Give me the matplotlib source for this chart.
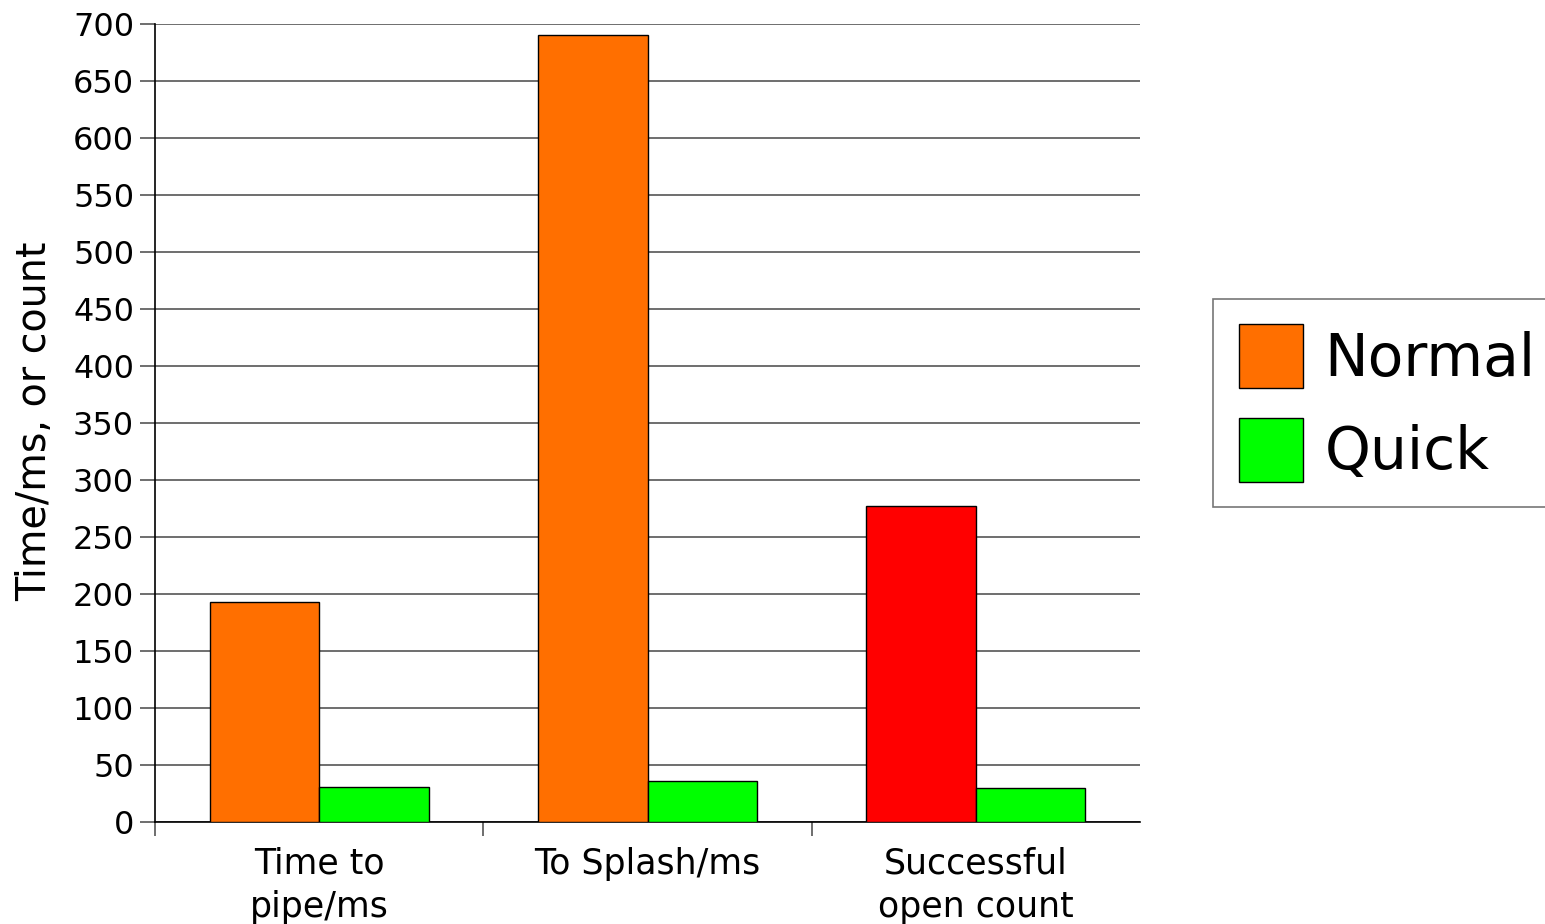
import matplotlib
matplotlib.use("Agg")
import matplotlib.pyplot as plt
import numpy as np
from matplotlib.patches import Patch

categories = ["Time to\npipe/ms", "To Splash/ms", "Successful\nopen count"]
normal = [193, 690, 277]
quick = [31, 36, 30]
normal_colors = ["#ff6f00", "#ff6f00", "#ff0000"]
quick_color = "#00ff00"

plt.rcParams["font.family"] = "DejaVu Sans"

fig = plt.figure(figsize=(15.45, 9.24), dpi=100)
ax = fig.add_axes([155 / 1545, 1 - 822 / 924, 985 / 1545, 798 / 924])

x = np.arange(len(categories))
w = 1 / 3
ax.bar(x - w / 2, normal, width=w, color=normal_colors, edgecolor="black", linewidth=1, zorder=3)
ax.bar(x + w / 2, quick, width=w, color=quick_color, edgecolor="black", linewidth=1, zorder=3)

ax.set_xlim(-0.5, len(categories) - 0.5)
ax.set_ylim(0, 700)
ax.set_yticks(np.arange(0, 701, 50))
ax.yaxis.grid(True, color="#555555", linewidth=1.2, zorder=0)
ax.tick_params(axis="y", labelsize=23, length=11, color="#555555", width=1.2, pad=4)

# group boundary ticks (none at the right end)
ax.set_xticks(np.arange(-0.5, len(categories) - 0.5, 1.0))
ax.set_xticklabels([])
ax.set_xticks(x, minor=True)
ax.set_xticklabels(categories, minor=True, fontsize=25, linespacing=1.35)
ax.tick_params(axis="x", which="major", length=10, color="#555555", width=1.2)
ax.tick_params(axis="x", which="minor", length=0, pad=18)

for s in ["top", "right"]:
    ax.spines[s].set_visible(False)
ax.spines["left"].set_color("black")
ax.spines["bottom"].set_color("black")
ax.spines["left"].set_linewidth(1.2)
ax.spines["bottom"].set_linewidth(1.2)

ax.set_ylabel("Time/ms, or count", fontsize=28.5)
ax.yaxis.set_label_coords(-100 / 985, 0.502)

handles = [Patch(facecolor=normal_colors[0], edgecolor="black", label="Normal"),
           Patch(facecolor=quick_color, edgecolor="black", label="Quick")]
leg = fig.legend(handles=handles, loc="center left", bbox_to_anchor=(1213 / 1545, 1 - 403 / 924),
                 fontsize=42, frameon=True, fancybox=False, edgecolor="#555555",
                 handlelength=1.1, handleheight=1.31, handletextpad=0.37,
                 borderpad=0.44, labelspacing=0.5, borderaxespad=0)
leg.get_frame().set_linewidth(1.2)

fig.savefig("out.png", dpi=100)
